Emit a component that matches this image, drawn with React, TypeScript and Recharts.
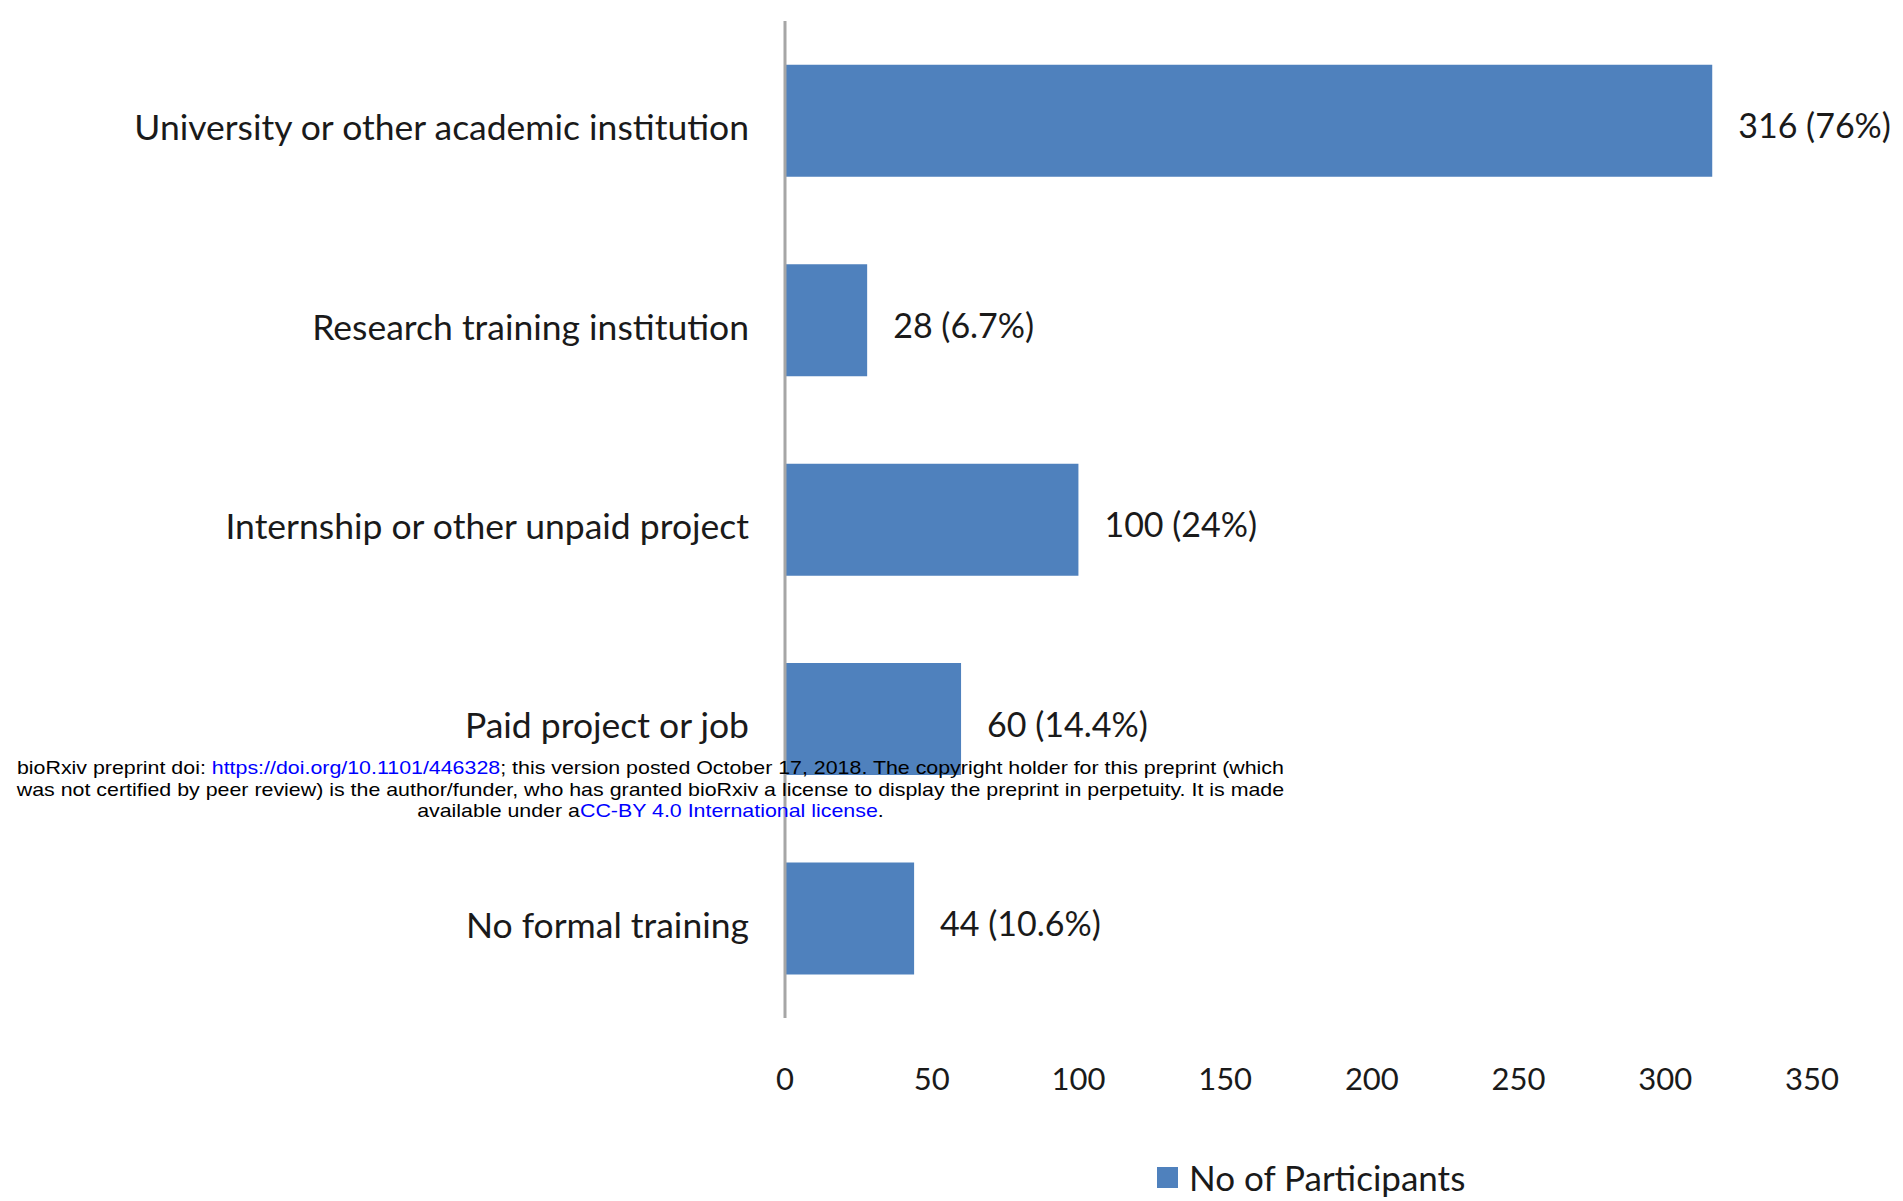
import React from 'react';
import { BarChart, Bar, XAxis, YAxis, LabelList, Legend } from 'recharts';

const categories = [
  'University or other academic institution',
  'Research training institution',
  'Internship or other unpaid project',
  'Paid project or job',
  'No formal training',
];
const participants = [316, 28, 100, 60, 44];
const percentages = ['76%', '6.7%', '24%', '14.4%', '10.6%'];
const xTicks = [0, 50, 100, 150, 200, 250, 300, 350];
const seriesName = 'No of Participants';

const data = categories.map((name, i) => ({
  name,
  value: participants[i],
  label: `${participants[i]} (${percentages[i]})`,
}));

const FONT = 'Lato, "Open Sans", sans-serif';
const TEXT = '#1a1a1a';
const BAR = '#4f81bd';

const CategoryTick = (props: any) => {
  const { x, y, payload } = props;
  return (
    <text x={x - 36} y={y + 6} textAnchor="end" dominantBaseline="central" fontFamily={FONT} fontSize={35.5} fill={TEXT}>
      {payload.value}
    </text>
  );
};

const ValueTick = (props: any) => {
  const { x, y, payload } = props;
  return (
    <text x={x} y={y + 60} textAnchor="middle" dominantBaseline="central" fontFamily={FONT} fontSize={31} fill={TEXT}>
      {payload.value}
    </text>
  );
};

// value label to the right of each bar, a bit below the bar centre like the original
const BarValueLabel = (props: any) => {
  const { x, y, width, height, value } = props;
  return (
    <text x={x + width + 26} y={y + height / 2 + 4} textAnchor="start" dominantBaseline="central" fontFamily={FONT} fontSize={34} fill={TEXT}>
      {value}
    </text>
  );
};

const LegendContent = () => (
  <div style={{ display: 'flex', alignItems: 'center', fontFamily: FONT, fontSize: 35, color: TEXT }}>
    <span style={{ display: 'inline-block', width: 21, height: 21, background: BAR, marginRight: 11 }} />
    <span>{seriesName}</span>
  </div>
);

export default function App() {
  return (
    <div style={{ position: 'absolute', left: 0, top: 0, width: 1903, height: 1201, background: '#fff' }}>
      <style>{`body{margin:0;background:#fff}`}</style>
      <BarChart
        width={1903}
        height={1201}
        data={data}
        layout="vertical"
        margin={{ top: 21, right: 91, bottom: 123, left: 0 }}
        barCategoryGap="22%"
      >
        <XAxis
          type="number"
          domain={[0, 350]}
          ticks={xTicks}
          axisLine={false}
          tickLine={false}
          tickSize={0}
          tickMargin={0}
          height={60}
          tick={<ValueTick />}
          orientation="bottom"
        />
        <YAxis
          type="category"
          dataKey="name"
          width={785}
          axisLine={{ stroke: '#a6a6a6', strokeWidth: 3 }}
          tickLine={false}
          tickSize={0}
          tickMargin={0}
          tick={<CategoryTick />}
        />
        <Legend
          layout="horizontal"
          verticalAlign="middle"
          align="center"
          content={<LegendContent />}
          wrapperStyle={{ position: 'absolute', left: 1157, top: 1156, width: 360, height: 44 }}
        />
        <Bar dataKey="value" name={seriesName} fill={BAR} isAnimationActive={false}>
          <LabelList dataKey="label" content={<BarValueLabel />} />
        </Bar>
      </BarChart>
      <div
        style={{
          position: 'absolute',
          left: 19,
          top: 757,
          width: 1267,
          textAlign: 'center',
          fontFamily: '"Liberation Sans", Arial, sans-serif',
          fontSize: 19,
          lineHeight: '21.5px',
          color: '#000',
          transform: 'scaleX(1.125)',
          transformOrigin: '650px 0',
          whiteSpace: 'nowrap',
        }}
      >
        bioRxiv preprint doi: <span style={{ color: '#0000ff' }}>https://doi.org/10.1101/446328</span>; this version posted October 17, 2018. The copyright holder for this preprint (which
        <br />
        was not certified by peer review) is the author/funder, who has granted bioRxiv a license to display the preprint in perpetuity. It is made
        <br />
        available under a<span style={{ color: '#0000ff' }}>CC-BY 4.0 International license</span>.
      </div>
    </div>
  );
}
